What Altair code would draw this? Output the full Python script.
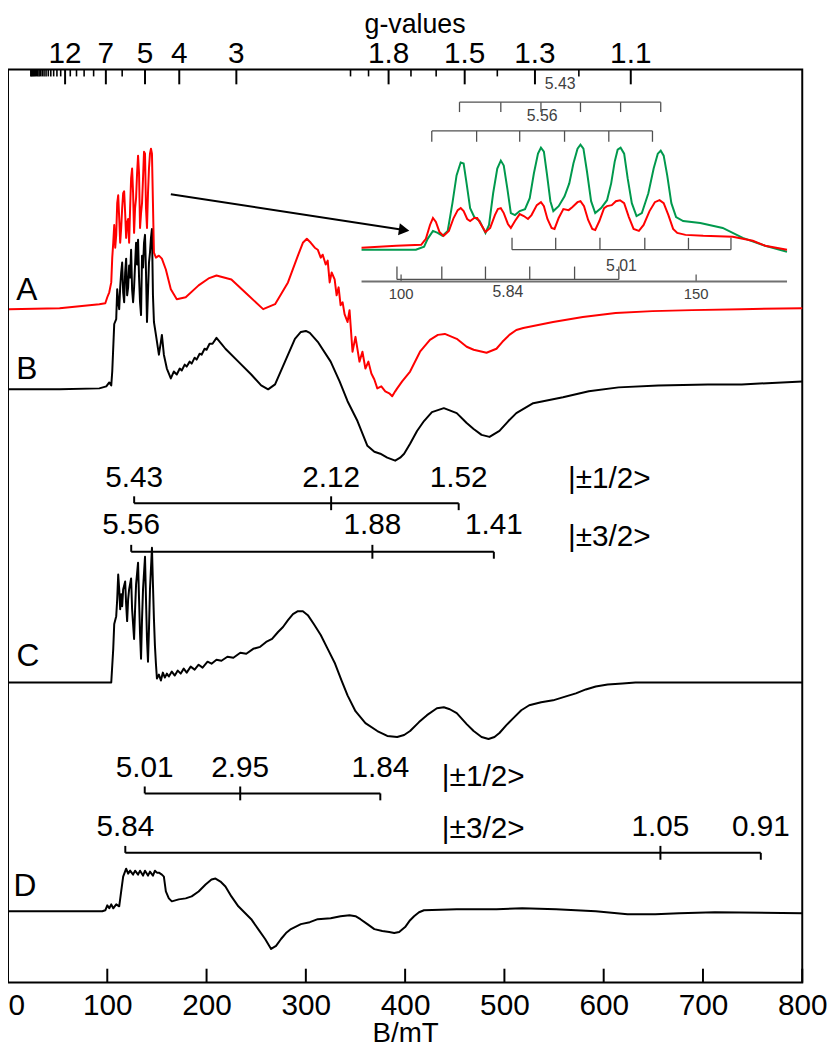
import altair as alt
import pandas as pd

# ---------------------------------------------------------------- constants
BG = 690.0            # resonance product B*g (mT) at the spectrometer frequency
PLOT_W, PLOT_H = 802, 922
FONT = "Liberation Sans"

# ---------------------------------------------------------------- top g-axis
g_major = [12, 7, 5, 4, 3, 1.8, 1.5, 1.3, 1.1]
g_major_labels = ["12", "7", "5", "4", "3", "1.8", "1.5", "1.3", "1.1"]
g_minor = [30, 29, 28, 27, 26, 25, 24, 23, 22, 21, 20, 19, 18, 17, 16, 15, 14, 13,
           11, 10, 9, 8, 6, 2, 1.9, 1.7, 1.6, 1.4, 1.2]
b_ticks = [0, 100, 200, 300, 400, 500, 600, 700, 800]

# ---------------------------------------------------------------- spectra (field mT, signal)
A_field = [1, 52, 92, 98, 100, 102, 104, 105, 106, 107, 108, 109, 110, 111, 112, 113, 114, 115,
           116, 117, 118, 119, 120, 121, 122, 123, 124, 125, 126, 127, 128, 129, 130, 131, 132,
           133, 134, 135, 136, 137, 138, 139, 140, 141, 142, 143, 144, 145, 146, 147, 149, 152,
           155, 159, 164, 170, 179, 192, 202, 210, 225, 242, 257, 269, 282, 292, 297, 301, 305,
           309, 312, 315, 317, 320, 322, 324, 326, 329, 331, 333, 335, 337, 339, 342, 344, 347,
           350, 354, 357, 360, 363, 366, 369, 372, 376, 380, 384, 387, 390, 392, 397, 405, 415,
           425, 433, 440, 452, 462, 469, 482, 492, 498, 505, 512, 519, 549, 579, 612, 649, 689,
           739, 800]
A_signal = [0, 1, 5, 6, 12, 17, 27, 52, 67, 85, 62, 75, 107, 115, 92, 67, 82, 102,
            117, 119, 97, 72, 87, 91, 67, 102, 132, 142, 117, 77, 102, 112, 137, 155, 137,
            82, 97, 107, 132, 159, 157, 102, 82, 117, 142, 157, 162, 157, 107, 57, 52, 54,
            51, 40, 20, 10, 12, 24, 31, 34, 30, 14, 0, 5, 27, 54, 67, 71, 67,
            62, 60, 52, 55, 45, 49, 27, 37, 30, 14, 22, 4, 7, -5, -13, -1, -43,
            -28, -53, -43, -60, -53, -65, -71, -80, -78, -83, -85, -88, -83, -80, -73, -63, -43,
            -31, -26, -25, -30, -38, -41, -44, -40, -33, -26, -21, -19, -13, -8, -4, -2, -1,
            0, 1]

B_field = [1, 52, 92, 99, 102, 104, 105, 107, 109, 110, 111, 112, 113, 114, 115, 116, 117, 118,
           119, 120, 121, 122, 123, 124, 125, 126, 127, 128, 129, 130, 131, 132, 133, 134, 135,
           136, 137, 138, 139, 140, 141, 142, 143, 144, 145, 146, 147, 149, 152, 154, 155, 157,
           160, 164, 167, 170, 173, 175, 178, 180, 183, 185, 188, 190, 193, 195, 198, 200, 203,
           206, 210, 215, 219, 232, 245, 255, 262, 269, 279, 289, 295, 300, 304, 312, 325, 334,
           342, 352, 362, 369, 375, 382, 390, 395, 399, 405, 412, 419, 427, 439, 452, 462, 469,
           477, 485, 495, 504, 512, 529, 559, 585, 615, 655, 705, 739, 800]
B_signal = [0, 0, 1, 3, 7, 4, 18, 66, 71, 101, 88, 81, 103, 118, 128, 98, 88, 118,
            132, 95, 103, 125, 113, 141, 101, 88, 103, 126, 148, 126, 151, 113, 88, 75, 135,
            123, 148, 156, 118, 68, 98, 128, 138, 153, 162, 95, 68, 55, 35, 48, 55, 35,
            21, 11, 18, 15, 21, 19, 25, 23, 28, 26, 32, 30, 36, 35, 41, 40, 46,
            46, 52, 46, 41, 28, 15, 4, 0, 5, 28, 51, 58, 59, 57, 48, 28, 8,
            -12, -32, -57, -63, -65, -69, -72, -69, -65, -55, -42, -32, -23, -19, -24, -34, -40,
            -46, -48, -42, -32, -24, -14, -8, -2, 2, 4, 5, 5, 8]

C_field = [1, 104, 106, 107, 109, 110, 111, 112, 113, 114, 115, 116, 118, 119, 120, 121, 122, 124,
           125, 126, 127, 128, 129, 131, 132, 133, 134, 135, 136, 138, 139, 140, 141, 142, 143,
           145, 146, 147, 148, 149, 150, 152, 154, 156, 158, 160, 162, 165, 168, 171, 174, 177,
           180, 184, 188, 192, 196, 201, 205, 210, 215, 221, 227, 234, 240, 247, 254, 260, 266,
           272, 277, 282, 287, 292, 297, 302, 308, 315, 322, 329, 336, 342, 350, 360, 372, 382,
           392, 399, 405, 414, 422, 432, 439, 445, 452, 462, 469, 477, 484, 490, 495, 502, 509,
           517, 525, 537, 549, 562, 572, 582, 592, 604, 619, 632, 800]
C_signal = [0, 0, 34, 59, 67, 84, 109, 94, 74, 89, 77, 94, 102, 79, 62, 84, 94, 105,
            74, 59, 44, 74, 99, 121, 84, 49, 24, 64, 94, 127, 84, 44, 21, 54, 94,
            136, 99, 64, 37, 19, 4, 8, 2, 10, 5, 9, 6, 11, 7, 12, 9, 14,
            10, 16, 13, 18, 15, 21, 19, 23, 22, 26, 25, 30, 29, 34, 36, 41, 44,
            51, 56, 63, 69, 72, 72, 68, 59, 48, 34, 20, 2, -13, -29, -41, -49, -54,
            -55, -53, -49, -40, -33, -26, -25, -27, -31, -42, -49, -55, -57, -55, -51, -43, -36,
            -28, -23, -20, -18, -14, -11, -7, -4, -2, -1, 0, 0]

D_field = [1, 95, 98, 100, 102, 104, 106, 109, 112, 114, 116, 119, 121, 123, 126, 128, 131, 133,
           136, 138, 141, 143, 146, 148, 150, 152, 155, 157, 159, 162, 165, 172, 179, 185, 192,
           199, 205, 209, 214, 219, 225, 232, 239, 245, 252, 259, 265, 270, 275, 280, 285, 295,
           304, 312, 325, 335, 344, 350, 355, 362, 369, 377, 384, 389, 394, 400, 405, 409, 414,
           419, 452, 492, 518, 552, 592, 624, 652, 676, 712, 800]
D_signal = [0, 0, 1, 6, 3, 7, 3, 7, 5, 20, 35, 43, 38, 41, 37, 41, 37, 41,
            36, 41, 36, 40, 36, 41, 39, 39, 37, 35, 20, 13, 10, 12, 13, 15, 20,
            27, 32, 33, 30, 25, 15, 5, -2, -8, -18, -28, -38, -35, -28, -22, -18, -13,
            -11, -8, -7, -5, -4, -5, -8, -13, -18, -20, -21, -22, -21, -16, -9, -5, -1,
            1, 2, 2, 3, 2, 0, -3, -3, -2, -1, -2]

trace_names = ["A", "B", "C", "D"]
trace_colors = {"A": "#ff0000", "B": "#000000", "C": "#000000", "D": "#000000"}
trace_offset = {"A": 680, "B": 599, "C": 303, "D": 72}
trace_label_pos = {"A": (19, 699), "B": (19, 619), "C": (20, 330), "D": (17, 97)}

# ---------------------------------------------------------------- stick diagrams (g-values)
sticks = [
    {"g": [5.43, 2.12, 1.52], "labels": ["5.43", "2.12", "1.52"], "line": 484, "text": 509,
     "state": "|±1/2>", "state_x": 564, "state_y": 508},
    {"g": [5.56, 1.88, 1.41], "labels": ["5.56", "1.88", "1.41"], "line": 435, "text": 462,
     "state": "|±3/2>", "state_x": 564, "state_y": 450},
    {"g": [5.01, 2.95, 1.84], "labels": ["5.01", "2.95", "1.84"], "line": 191, "text": 217,
     "state": "|±1/2>", "state_x": 437, "state_y": 207},
    {"g": [5.84, 1.05, 0.91], "labels": ["5.84", "1.05", "0.91"], "line": 131, "text": 157,
     "state": "|±3/2>", "state_x": 437, "state_y": 155},
]

# ---------------------------------------------------------------- inset (zoom of 95-165 mT)
inset_green_field = [93.3, 99.2, 102.5, 103.9, 104.5, 105.4, 106.2, 107.0, 107.9, 108.7, 109.4,
                     110.1, 110.6, 111.1, 111.7, 112.4, 113.3, 114.3, 114.9, 115.6, 116.3, 116.9,
                     117.4, 118.0, 118.6, 119.3, 120.1, 121.0, 121.8, 122.5, 123.2, 123.7, 124.2,
                     124.7, 125.3, 125.8, 126.7, 127.7, 128.5, 129.2, 129.9, 130.4, 130.9, 131.5,
                     132.2, 132.9, 133.9, 134.9, 135.6, 136.2, 136.7, 137.2, 137.8, 138.4, 139.1,
                     139.9, 140.8, 141.9, 142.8, 143.5, 144.0, 144.5, 145.1, 145.8, 146.6, 147.8,
                     150.7, 154.5, 157.9, 161.7, 165.4]
inset_green_signal = [3, 3, 3, 6, 14, 22, 20, 17, 22, 50, 78,
                      91, 90, 70, 45, 36, 32, 20, 28, 60, 85, 93,
                      88, 65, 40, 38, 42, 44, 55, 80, 100, 106, 102,
                      80, 52, 42, 47, 57, 70, 90, 105, 109, 105, 82,
                      52, 40, 45, 53, 70, 92, 104, 106, 100, 75, 50,
                      37, 40, 60, 85, 100, 103, 98, 78, 50, 36, 32,
                      30, 25, 15, 7, 1]
inset_red_field = [93.3, 99.2, 103.4, 104.2, 104.9, 105.4, 105.9, 106.5, 107.2, 108.1, 108.9,
                   109.6, 110.1, 110.6, 111.2, 111.7, 112.4, 112.9, 113.6, 114.3, 115.1, 115.9,
                   116.4, 116.9, 117.4, 118.1, 118.6, 119.3, 120.1, 120.8, 121.5, 122.1, 123.0,
                   123.7, 124.2, 124.8, 125.5, 126.0, 126.7, 127.5, 128.4, 129.0, 129.9, 130.4,
                   131.0, 131.7, 132.4, 132.9, 133.6, 134.4, 134.9, 135.7, 136.4, 137.1, 137.8,
                   138.6, 139.4, 140.3, 141.1, 142.1, 143.0, 143.8, 144.5, 145.3, 146.1, 146.8,
                   148.2, 151.2, 156.2, 159.6, 161.7, 165.4]
inset_red_signal = [5, 7, 8, 14, 28, 35, 31, 21, 17, 22, 35,
                    43, 45, 42, 34, 32, 35, 35, 28, 21, 25, 38,
                    44, 45, 40, 29, 25, 32, 39, 37, 34, 38, 48,
                    51, 47, 34, 25, 24, 35, 44, 43, 46, 51, 52,
                    47, 33, 24, 23, 32, 45, 47, 48, 52, 53, 50,
                    36, 24, 22, 28, 42, 51, 53, 50, 38, 24, 20,
                    18, 17, 16, 12, 7, 3]

inset_sticks = [
    {"label": "5.43", "lines": [109.9, 116.9, 123.7, 130.4, 137.2, 144.0], "line": 152, "end": 142, "text": 170},
    {"label": "5.56", "lines": [105.2, 112.8, 120.1, 127.7, 135.2, 142.6], "line": 123, "end": 112, "text": 138},
    {"label": "5.01", "lines": [118.8, 126.2, 133.7, 141.3, 148.7, 155.9], "line": 3, "end": 15, "text": -13},
    {"label": "5.84", "lines": [99.3, 106.9, 114.3, 121.8, 129.4, 136.9], "line": -27, "end": -14, "text": -40},
]
inset_ticks = [100, 150]
inset_domain_x = [93.3, 165.8]
inset_axis_level = -29

arrow = {"B": 164, "y": 796, "B2": 399, "y2": 760}

# ================================================================= helpers
BOTTOM_AXIS = alt.Axis(values=b_ticks, ticks=False, domain=False, grid=False,
                       labelFont=FONT, labelFontSize=30, labelColor="black", labelPadding=8,
                       labelFlush=False,
                       labelAlign={"condition": {"test": "datum.value === 0", "value": "left"}, "value": "center"},
                       title="B/mT", titleFont=FONT, titleFontSize=28,
                       titleFontWeight="normal", titleColor="black", titlePadding=0)


def X(field="B"):
    return alt.X(f"{field}:Q", scale=alt.Scale(domain=[0, 800], nice=False, zero=False), axis=BOTTOM_AXIS)


def Y(field="y"):
    return alt.Y(f"{field}:Q", scale=alt.Scale(domain=[0, PLOT_H], nice=False, zero=False), axis=None)


layers = []

# bottom ticks (inside the frame)
bt = pd.DataFrame({"B": b_ticks})
layers.append(
    alt.Chart(bt).mark_rule(color="black", strokeWidth=2).encode(
        x=X("B"), y=Y("y0"), y2="y1:Q"
    ).transform_calculate(y0="0", y1="14")
)

# top g ticks
gm = pd.DataFrame({"g": g_major, "lab": g_major_labels})
gn = pd.DataFrame({"g": g_minor})
layers.append(
    alt.Chart(gm).mark_rule(color="black", strokeWidth=2).encode(
        x=X("B"), y=Y("y0"), y2="y1:Q"
    ).transform_calculate(B=f"{BG}/datum.g", y0=str(PLOT_H), y1=str(PLOT_H - 15))
)
layers.append(
    alt.Chart(gn).mark_rule(color="black", strokeWidth=1.6).encode(
        x=X("B"), y=Y("y0"), y2="y1:Q"
    ).transform_calculate(B=f"{BG}/datum.g", y0=str(PLOT_H), y1=str(PLOT_H - 7))
)
layers.append(
    alt.Chart(gm).mark_text(font=FONT, fontSize=30, baseline="alphabetic", align="center", color="black").encode(
        x=X("B"), y=Y("y"), text="lab:N"
    ).transform_calculate(B=f"{BG}/datum.g", y="929")
)
layers.append(
    alt.Chart(pd.DataFrame({"B": [410], "y": [959], "t": ["g-values"]})).mark_text(
        font=FONT, fontSize=27, baseline="alphabetic", align="center", color="black").encode(
        x=X("B"), y=Y("y"), text="t:N")
)

# spectra
fields = {"A": A_field, "B": B_field, "C": C_field, "D": D_field}
signals = {"A": A_signal, "B": B_signal, "C": C_signal, "D": D_signal}
for name in ["B", "C", "D", "A"]:
    df = pd.DataFrame({"B": fields[name], "s": signals[name]})
    df["y"] = df["s"] + trace_offset[name]
    df["i"] = range(len(df))
    layers.append(
        alt.Chart(df).mark_line(color=trace_colors[name], strokeWidth=2, strokeJoin="round").encode(
            x=X("B"), y=Y("y"), order="i:Q")
    )

# trace letters
lab = pd.DataFrame({"t": trace_names,
                    "B": [trace_label_pos[n][0] for n in trace_names],
                    "y": [trace_label_pos[n][1] for n in trace_names]})
layers.append(
    alt.Chart(lab).mark_text(font=FONT, fontSize=32, align="center", baseline="middle", color="black").encode(
        x=X("B"), y=Y("y"), text="t:N")
)

# stick diagrams
hl, tk, tx, st = [], [], [], []
for s in sticks:
    g = s["g"]
    hl.append({"g1": g[0], "g2": g[-1], "y": s["line"]})
    tk.append({"g": g[0], "y0": s["line"], "y1": s["line"] + 7})
    tk.append({"g": g[1], "y0": s["line"] - 7, "y1": s["line"] + 7})
    tk.append({"g": g[2], "y0": s["line"] - 7, "y1": s["line"]})
    for gv, lb in zip(g, s["labels"]):
        tx.append({"g": gv, "t": lb, "y": s["text"]})
    st.append({"B": s["state_x"], "y": s["state_y"], "t": s["state"]})
layers.append(
    alt.Chart(pd.DataFrame(hl)).mark_rule(color="black", strokeWidth=2).encode(
        x=X("B1"), x2="B2:Q", y=Y("y")
    ).transform_calculate(B1=f"{BG}/datum.g1", B2=f"{BG}/datum.g2")
)
layers.append(
    alt.Chart(pd.DataFrame(tk)).mark_rule(color="black", strokeWidth=2).encode(
        x=X("B"), y=Y("y0"), y2="y1:Q"
    ).transform_calculate(B=f"{BG}/datum.g")
)
layers.append(
    alt.Chart(pd.DataFrame(tx)).mark_text(font=FONT, fontSize=30, align="center", baseline="middle", color="black").encode(
        x=X("B"), y=Y("y"), text="t:N"
    ).transform_calculate(B=f"{BG}/datum.g")
)
layers.append(
    alt.Chart(pd.DataFrame(st)).mark_text(font=FONT, fontSize=30, align="left", baseline="middle", color="black").encode(
        x=X("B"), y=Y("y"), text="t:N")
)

# arrow
adf = pd.DataFrame([arrow])
layers.append(
    alt.Chart(adf).mark_rule(color="black", strokeWidth=2).encode(
        x=X("B"), y=Y("y"), x2="B2:Q", y2="y2:Q")
)
layers.append(
    alt.Chart(adf).mark_point(shape="triangle-right", filled=True, color="black", size=150, angle=8.5, opacity=1).encode(
        x=X("B2"), y=Y("y2"))
)

main = alt.layer(*layers)

# ================================================================= inset
def XI(field="Bi"):
    return alt.X(f"{field}:Q", scale=alt.Scale(domain=inset_domain_x, range=[357, 789], nice=False, zero=False), axis=None)


def YI(field="v"):
    return alt.Y(f"{field}:Q", scale=alt.Scale(domain=[0, 100], range=[185, 85], nice=False, zero=False), axis=None)


il = []
il.append(
    alt.Chart(pd.DataFrame({"Bi": [inset_domain_x[0]], "Bi2": [165.4], "v": [inset_axis_level]})).mark_rule(
        color="#707070", strokeWidth=2).encode(x=XI("Bi"), x2="Bi2:Q", y=YI("v"))
)
itk = pd.DataFrame({"Bi": inset_ticks, "v0": [inset_axis_level] * 2, "v1": [inset_axis_level + 7] * 2,
                    "t": [str(t) for t in inset_ticks], "vt": [-42, -42]})
il.append(alt.Chart(itk).mark_rule(color="#707070", strokeWidth=1.5).encode(x=XI("Bi"), y=YI("v0"), y2="v1:Q"))
il.append(alt.Chart(itk).mark_text(font=FONT, fontSize=15, color="#404040", baseline="middle").encode(
    x=XI("Bi"), y=YI("vt"), text="t:N"))

ihl, itks, itx = [], [], []
for s in inset_sticks:
    ihl.append({"Bi": min(s["lines"]), "Bi2": max(s["lines"]), "v": s["line"]})
    for b in s["lines"]:
        itks.append({"Bi": b, "v0": s["line"], "v1": s["end"]})
    itx.append({"Bi": (min(s["lines"]) + max(s["lines"])) / 2, "v": s["text"], "t": s["label"]})
il.append(alt.Chart(pd.DataFrame(ihl)).mark_rule(color="#505050", strokeWidth=1.3).encode(
    x=XI("Bi"), x2="Bi2:Q", y=YI("v")))
il.append(alt.Chart(pd.DataFrame(itks)).mark_rule(color="#505050", strokeWidth=1.3).encode(
    x=XI("Bi"), y=YI("v0"), y2="v1:Q"))
il.append(alt.Chart(pd.DataFrame(itx)).mark_text(font=FONT, fontSize=16, color="#404040", baseline="middle").encode(
    x=XI("Bi"), y=YI("v"), text="t:N"))

g_df = pd.DataFrame({"Bi": inset_green_field, "v": inset_green_signal})
r_df = pd.DataFrame({"Bi": inset_red_field, "v": inset_red_signal})
il.append(alt.Chart(g_df).mark_line(color="#00994d", strokeWidth=2).encode(x=XI("Bi"), y=YI("v")))
il.append(alt.Chart(r_df).mark_line(color="#ff0000", strokeWidth=2).encode(x=XI("Bi"), y=YI("v")))

inset = alt.layer(*il)

chart = alt.layer(main, inset).resolve_scale(x="independent", y="independent").properties(
    width=PLOT_W, height=PLOT_H,
    padding={"left": 0, "top": 57, "right": 26, "bottom": 62},
    autosize=alt.AutoSizeParams(type="none"),
    background="white",
).configure_view(stroke="black", strokeWidth=2)

chart.save("out.html", embed_options={"renderer": "svg", "actions": False})
